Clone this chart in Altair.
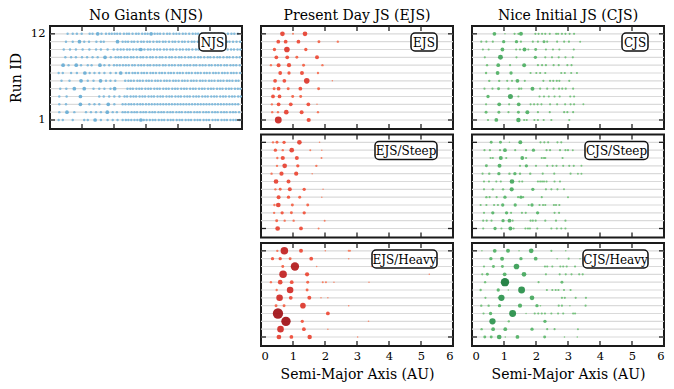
import altair as alt
import pandas as pd

FONT = "DejaVu Serif"
W, H = 192, 103
RUNS = list(range(1, 13))
X_TICKS = [0, 1, 2, 3, 4, 5, 6]
Y_TICKS = [1, 12]
TITLES = ["No Giants (NJS)", "Present Day JS (EJS)", "Nice Initial JS (CJS)"]
X_TITLE = "Semi-Major Axis (AU)"
Y_TITLE = "Run ID"

# ---------------- NJS: small and medium bodies per run ----------------
NJS_SMALL = {
    12: [0.55, 0.71, 0.84, 0.99, 1.24, 1.33, 1.61, 1.75, 1.85, 1.93, 2.02, 2.10, 2.19, 2.31, 2.40, 2.47, 2.58, 2.69, 2.77, 2.88, 2.97, 3.05, 3.27, 3.36, 3.44, 3.55, 3.66, 3.74, 3.86, 3.95, 4.04, 4.15, 4.24, 4.35, 4.46, 4.55, 4.63, 4.74, 4.86, 4.95, 5.05, 5.14, 5.26, 5.37, 5.45, 5.56, 5.67, 5.76, 5.87],
    11: [0.50, 0.71, 1.07, 1.22, 1.45, 1.59, 1.68, 2.27, 2.36, 2.44, 2.55, 2.63, 2.74, 2.85, 2.93, 3.04, 3.12, 3.23, 3.34, 3.42, 3.53, 3.61, 3.72, 3.83, 3.91, 4.02, 4.13, 4.21, 4.32, 4.43, 4.51, 4.62, 4.73, 4.82, 4.93, 5.01, 5.12, 5.23, 5.31, 5.42, 5.53, 5.61, 5.72, 5.83, 5.94],
    10: [0.43, 0.625, 0.81, 1.02, 1.23, 1.44, 1.59, 1.80, 1.99, 2.11, 2.21, 2.30, 2.41, 2.49, 2.60, 2.70, 2.79, 2.95, 3.06, 3.14, 3.25, 3.35, 3.44, 3.56, 3.65, 3.76, 3.84, 3.95, 4.06, 4.15, 4.26, 4.34, 4.45, 4.56, 4.64, 4.75, 4.86, 4.94, 5.05, 5.16, 5.25, 5.36, 5.44, 5.55, 5.66, 5.75, 5.86, 5.95],
    9: [0.48, 0.66, 0.81, 1.00, 1.16, 1.33, 1.49, 1.90, 2.05, 2.14, 2.22, 2.33, 2.42, 2.53, 2.61, 2.72, 2.83, 2.91, 3.02, 3.13, 3.21, 3.32, 3.43, 3.51, 3.62, 3.73, 3.81, 3.92, 4.03, 4.11, 4.22, 4.33, 4.41, 4.52, 4.63, 4.71, 4.82, 4.93, 5.01, 5.12, 5.23, 5.31, 5.42, 5.53, 5.61, 5.72, 5.83, 5.93],
    8: [0.58, 0.97, 1.18, 1.30, 1.70, 1.85, 2.00, 2.09, 2.18, 2.28, 2.37, 2.46, 2.57, 2.65, 2.76, 2.85, 2.94, 3.05, 3.13, 3.24, 3.33, 3.42, 3.53, 3.61, 3.72, 3.81, 3.90, 4.01, 4.09, 4.20, 4.29, 4.38, 4.49, 4.57, 4.68, 4.77, 4.86, 4.97, 5.05, 5.16, 5.25, 5.34, 5.45, 5.53, 5.64, 5.73, 5.82, 5.93],
    7: [0.27, 0.40, 0.66, 0.84, 1.24, 1.39, 1.54, 1.70, 1.89, 2.06, 2.38, 2.47, 2.58, 2.66, 2.75, 2.86, 2.94, 3.03, 3.14, 3.22, 3.31, 3.42, 3.50, 3.59, 3.70, 3.78, 3.87, 3.98, 4.06, 4.15, 4.26, 4.34, 4.43, 4.54, 4.62, 4.71, 4.82, 4.90, 4.99, 5.10, 5.18, 5.27, 5.38, 5.46, 5.55, 5.66, 5.74, 5.83, 5.94],
    6: [0.36, 0.61, 1.18, 1.36, 1.75, 1.89, 2.04, 2.35, 2.45, 2.53, 2.62, 2.73, 2.81, 2.90, 3.01, 3.09, 3.18, 3.29, 3.37, 3.46, 3.57, 3.65, 3.74, 3.85, 3.93, 4.02, 4.13, 4.21, 4.30, 4.41, 4.49, 4.58, 4.69, 4.77, 4.86, 4.97, 5.05, 5.14, 5.25, 5.33, 5.42, 5.53, 5.61, 5.70, 5.81, 5.89],
    5: [0.32, 0.51, 1.36, 1.54, 1.70, 1.89, 2.42, 2.51, 2.59, 2.70, 2.79, 2.87, 2.98, 3.07, 3.15, 3.26, 3.35, 3.43, 3.54, 3.63, 3.71, 3.82, 3.91, 3.99, 4.10, 4.19, 4.27, 4.38, 4.47, 4.55, 4.66, 4.75, 4.83, 4.94, 5.03, 5.11, 5.22, 5.31, 5.39, 5.50, 5.59, 5.67, 5.78, 5.87, 5.95],
    4: [0.29, 0.52, 1.54, 1.68, 1.85, 2.01, 2.17, 2.33, 2.41, 2.52, 2.61, 2.69, 2.80, 2.89, 2.97, 3.08, 3.17, 3.25, 3.36, 3.45, 3.53, 3.64, 3.73, 3.81, 3.92, 4.01, 4.09, 4.20, 4.29, 4.37, 4.48, 4.57, 4.65, 4.76, 4.85, 4.93, 5.04, 5.13, 5.21, 5.32, 5.41, 5.49, 5.60, 5.69, 5.77, 5.88, 5.96],
    3: [0.29, 0.50, 1.23, 1.39, 1.54, 2.01, 2.27, 2.36, 2.46, 2.54, 2.63, 2.73, 2.82, 2.90, 3.00, 3.09, 3.18, 3.27, 3.36, 3.45, 3.54, 3.63, 3.72, 3.81, 3.90, 3.99, 4.08, 4.17, 4.26, 4.35, 4.44, 4.53, 4.62, 4.71, 4.80, 4.89, 4.98, 5.07, 5.16, 5.25, 5.34, 5.43, 5.52, 5.61, 5.70, 5.79, 5.88],
    2: [0.29, 0.76, 1.125, 1.28, 1.44, 1.59, 1.96, 2.09, 2.27, 2.35, 2.44, 2.55, 2.64, 2.72, 2.83, 2.92, 3.00, 3.11, 3.20, 3.28, 3.39, 3.48, 3.56, 3.67, 3.76, 3.84, 3.95, 4.04, 4.12, 4.23, 4.32, 4.40, 4.51, 4.60, 4.68, 4.79, 4.88, 4.96, 5.07, 5.16, 5.24, 5.35, 5.44, 5.52, 5.63, 5.72, 5.80, 5.91],
    1: [0.27, 0.40, 0.71, 1.07, 1.18, 1.59, 1.80, 1.96, 2.11, 2.27, 2.37, 2.45, 2.54, 2.64, 2.73, 2.93, 3.02, 3.12, 3.21, 3.29, 3.40, 3.49, 3.57, 3.68, 3.77, 3.85, 3.96, 4.05, 4.13, 4.24, 4.33, 4.41, 4.52, 4.61, 4.69, 4.80, 4.89, 4.97, 5.08, 5.17, 5.25, 5.36, 5.45, 5.53, 5.64, 5.73, 5.81, 5.92],
}
NJS_MED = {
    12: [1.49, 3.16], 11: [0.92, 2.11], 10: [2.84], 9: [1.72], 8: [0.41, 0.82, 1.56],
    7: [1.09, 2.21], 6: [0.97, 1.58], 5: [0.76, 1.07, 2.02], 4: [0.95], 3: [0.95, 1.82],
    2: [0.53, 1.79], 1: [1.41, 2.84],
}
NJS_SMALL_MASS = 0.15
NJS_MED_MASS = 0.35

# ---------------- (semi-major axis, mass) per run ----------------
EJS = {
    12: [(0.67, 0.56), (1.0, 0.1), (1.375, 0.56)],
    11: [(0.54, 0.36), (0.77, 0.36), (1.17, 0.36), (1.81, 0.22), (2.4, 0.14)],
    10: [(0.42, 0.28), (0.81, 0.8), (1.4, 0.28)],
    9: [(0.48, 0.36), (0.82, 0.36), (1.12, 0.22), (1.75, 0.4)],
    8: [(0.31, 0.14), (0.55, 0.4), (0.875, 0.45), (1.33, 0.22), (1.92, 0.14)],
    7: [(0.6, 0.36), (0.875, 0.28), (1.28, 0.4), (1.78, 0.14)],
    6: [(0.44, 0.36), (0.73, 0.36), (1.43, 0.8), (2.23, 0.06)],
    5: [(0.41, 0.22), (0.55, 0.36), (0.85, 0.22), (1.23, 0.36), (1.8, 0.22)],
    4: [(0.375, 0.36), (0.58, 0.36), (0.99, 0.22), (1.24, 0.22)],
    3: [(0.34, 0.14), (0.55, 0.36), (0.93, 0.36), (1.48, 0.36), (1.75, 0.06)],
    2: [(0.35, 0.14), (0.53, 0.14), (0.79, 0.56), (1.27, 0.4), (1.78, 0.14)],
    1: [(0.54, 1.2), (1.49, 0.45)],
}
EJS_STEEP = {
    12: [(0.375, 0.14), (0.5, 0.22), (0.72, 0.28), (1.2, 0.56), (1.83, 0.06)],
    11: [(0.45, 0.28), (0.68, 0.14), (0.96, 0.56), (1.54, 0.1), (1.9, 0.06)],
    10: [(0.51, 0.14), (0.68, 0.45), (1.12, 0.4), (1.89, 0.1)],
    9: [(0.5, 0.14), (0.74, 0.56), (1.15, 0.28), (1.73, 0.14)],
    8: [(0.33, 0.14), (0.64, 0.45), (1.1, 0.45), (1.6, 0.06)],
    7: [(0.47, 0.56), (0.86, 0.4)],
    6: [(0.45, 0.14), (0.6, 0.22), (0.9, 0.4), (1.35, 0.28), (1.94, 0.06)],
    5: [(0.55, 0.4), (0.86, 0.28), (1.21, 0.22), (1.9, 0.06)],
    4: [(0.42, 0.14), (0.54, 0.56), (0.98, 0.22), (1.46, 0.22)],
    3: [(0.41, 0.14), (0.66, 0.28), (0.95, 0.22), (1.35, 0.28)],
    2: [(0.49, 0.22), (0.74, 0.14), (1.02, 0.14), (1.99, 0.1)],
    1: [(0.52, 0.56), (1.25, 0.36), (1.8, 0.1)],
}
EJS_HEAVY = {
    12: [(0.51, 0.14), (0.73, 1.45), (1.25, 0.4), (2.01, 0.06), (2.74, 0.1), (2.78, 0.1)],
    11: [(0.36, 0.28), (0.6, 0.28), (0.91, 0.22), (1.57, 0.36), (2.74, 0.06)],
    10: [(0.68, 0.22), (1.06, 1.8), (1.74, 0.06), (3.46, 0.06)],
    9: [(0.69, 1.45), (1.44, 0.45), (5.26, 0.06)],
    8: [(0.31, 0.14), (0.6, 0.56), (0.96, 0.36), (1.46, 0.22), (1.93, 0.1), (2.03, 0.1), (2.28, 0.06), (3.375, 0.06)],
    7: [(0.49, 0.14), (0.91, 1.1), (1.44, 0.22)],
    6: [(0.58, 1.1), (0.93, 0.36), (1.51, 0.4), (1.875, 0.06), (2.09, 0.06)],
    5: [(0.47, 0.22), (0.72, 0.22), (1.31, 0.8), (2.74, 0.06)],
    4: [(0.53, 2.7), (2.09, 0.36)],
    3: [(0.78, 2.25), (1.29, 0.28), (3.36, 0.06)],
    2: [(0.61, 1.1), (1.34, 0.36), (2.09, 0.06)],
    1: [(0.56, 0.56), (0.95, 0.36), (1.52, 0.5), (3.02, 0.06)],
}
CJS = {
    12: [(0.70, 0.36), (1.03, 0.06), (1.33, 0.12), (1.45, 0.12), (1.53, 0.4), (1.98, 0.12), (2.08, 0.12), (2.19, 0.12), (2.29, 0.12), (2.43, 0.12), (2.63, 0.12), (2.69, 0.12), (2.81, 0.12), (2.92, 0.12), (3.05, 0.12), (3.19, 0.12)],
    11: [(0.29, 0.12), (0.45, 0.12), (0.65, 0.12), (0.99, 0.28), (1.39, 0.28), (1.53, 0.12), (1.9, 0.12), (2.06, 0.12), (2.25, 0.22), (2.35, 0.12), (2.66, 0.12), (2.88, 0.12), (3.03, 0.12), (3.38, 0.1)],
    10: [(0.34, 0.12), (0.52, 0.12), (0.95, 0.36), (1.38, 0.12), (1.5, 0.12), (1.64, 0.4), (1.76, 0.12), (1.99, 0.22), (2.31, 0.12), (2.53, 0.12), (2.73, 0.12), (3.18, 0.12)],
    9: [(0.40, 0.12), (0.89, 0.63), (1.39, 0.12), (1.98, 0.28), (2.29, 0.12), (2.5, 0.12), (2.71, 0.12), (2.92, 0.12), (3.15, 0.12)],
    8: [(0.47, 0.14), (0.82, 0.36), (1.19, 0.12), (1.63, 0.4), (2.06, 0.12), (2.19, 0.12), (2.31, 0.12), (2.55, 0.12), (2.71, 0.12), (2.98, 0.12), (3.11, 0.12)],
    7: [(0.44, 0.14), (0.80, 0.36), (1.22, 0.28), (1.83, 0.12), (2.01, 0.12), (2.13, 0.12), (2.29, 0.12), (2.79, 0.12), (2.9, 0.12), (3.1, 0.12), (3.28, 0.12)],
    6: [(0.54, 0.14), (0.85, 0.14), (1.1, 0.12), (1.25, 0.12), (1.42, 0.36), (1.65, 0.12), (2.23, 0.12), (2.44, 0.12), (2.54, 0.12), (2.65, 0.12), (2.73, 0.12), (3.04, 0.12)],
    5: [(0.39, 0.12), (0.64, 0.12), (0.83, 0.22), (1.14, 0.14), (1.47, 0.14), (1.54, 0.12), (1.89, 0.4), (2.13, 0.12), (2.35, 0.12), (2.55, 0.12), (2.72, 0.12), (2.82, 0.12), (2.93, 0.12), (3.16, 0.12)],
    4: [(0.5, 0.28), (1.2, 0.65), (1.45, 0.12), (2.11, 0.12), (2.25, 0.12), (2.4, 0.12), (2.58, 0.12), (2.74, 0.12), (3.07, 0.12), (3.19, 0.12)],
    3: [(0.44, 0.12), (0.85, 0.36), (1.16, 0.12), (1.46, 0.36), (1.83, 0.12), (1.94, 0.12), (2.05, 0.12), (2.17, 0.12), (2.44, 0.12), (2.66, 0.12), (2.91, 0.12), (3.08, 0.12), (3.19, 0.12), (3.48, 0.1)],
    2: [(0.44, 0.22), (0.84, 0.22), (1.14, 0.12), (1.45, 0.22), (1.73, 0.4), (2.06, 0.12), (2.43, 0.12), (2.88, 0.12), (2.98, 0.12), (3.16, 0.12)],
    1: [(0.5, 0.12), (0.76, 0.36), (1.45, 0.5), (1.63, 0.12), (1.71, 0.12), (1.95, 0.12), (2.06, 0.12), (2.24, 0.12), (2.48, 0.12), (3.04, 0.12)],
}
CJS_STEEP = {
    12: [(0.6, 0.22), (0.89, 0.22), (1.17, 0.06), (1.51, 0.4), (2.14, 0.12), (2.26, 0.12), (2.38, 0.12), (2.67, 0.12), (2.79, 0.12)],
    11: [(0.39, 0.12), (0.56, 0.12), (0.875, 0.12), (1.03, 0.36), (1.35, 0.12), (1.69, 0.12), (1.92, 0.28), (2.33, 0.12), (2.44, 0.12), (2.75, 0.12), (2.92, 0.12), (3.0, 0.12), (3.15, 0.1)],
    10: [(0.58, 0.12), (0.65, 0.12), (0.9, 0.4), (1.07, 0.12), (1.57, 0.36), (1.69, 0.12), (2.18, 0.12), (2.25, 0.12), (2.29, 0.12), (2.83, 0.12)],
    9: [(0.45, 0.22), (0.86, 0.4), (1.5, 0.12), (1.7, 0.28), (2.0, 0.12), (2.35, 0.12), (2.52, 0.12), (2.64, 0.12), (2.85, 0.12), (3.04, 0.12), (3.18, 0.12), (3.42, 0.1)],
    8: [(0.33, 0.12), (0.54, 0.14), (0.84, 0.28), (1.17, 0.14), (1.34, 0.28), (1.5, 0.14), (1.82, 0.14), (2.21, 0.12), (2.57, 0.12), (3.08, 0.12), (3.31, 0.1), (3.42, 0.1)],
    7: [(0.375, 0.12), (0.53, 0.12), (0.76, 0.12), (0.9, 0.12), (1.25, 0.56), (1.48, 0.12), (1.57, 0.12), (2.06, 0.12), (2.13, 0.12), (2.19, 0.12), (2.25, 0.12), (2.33, 0.12), (2.58, 0.12), (2.75, 0.12)],
    6: [(0.375, 0.12), (0.65, 0.14), (0.97, 0.14), (1.24, 0.45), (1.9, 0.28), (2.31, 0.12), (2.48, 0.12), (2.67, 0.12), (2.875, 0.1)],
    5: [(0.45, 0.14), (0.55, 0.12), (0.77, 0.12), (1.03, 0.28), (1.44, 0.12), (1.53, 0.28), (1.6, 0.12), (2.18, 0.12), (3.0, 0.1)],
    4: [(0.27, 0.12), (0.45, 0.12), (0.69, 0.12), (0.81, 0.12), (0.96, 0.28), (1.35, 0.28), (1.77, 0.12), (1.875, 0.28), (2.11, 0.12), (2.22, 0.12), (2.29, 0.12), (2.56, 0.12), (2.625, 0.12), (2.73, 0.12)],
    3: [(0.375, 0.12), (0.65, 0.28), (1.08, 0.28), (1.22, 0.12), (1.56, 0.12), (1.68, 0.12), (2.05, 0.28), (2.58, 0.12), (2.72, 0.12)],
    2: [(0.35, 0.12), (0.46, 0.12), (0.61, 0.12), (0.97, 0.28), (1.17, 0.36), (1.27, 0.12), (1.83, 0.12), (1.9, 0.12), (1.99, 0.12), (2.29, 0.12), (2.625, 0.12), (2.92, 0.12)],
    1: [(0.35, 0.12), (0.72, 0.28), (0.92, 0.12), (1.2, 0.4), (1.3, 0.12), (1.67, 0.12), (1.75, 0.12), (1.81, 0.12), (2.04, 0.12), (2.48, 0.12), (2.65, 0.12), (2.79, 0.12), (2.92, 0.12)],
}
CJS_HEAVY = {
    12: [(0.31, 0.06), (0.71, 0.36), (1.125, 0.4), (1.47, 0.06), (1.85, 0.56), (2.48, 0.12), (2.93, 0.06)],
    11: [(0.59, 0.28), (0.94, 0.4), (1.53, 0.28), (1.99, 0.36), (2.66, 0.06), (3.02, 0.12), (3.375, 0.06)],
    10: [(0.375, 0.12), (0.67, 0.22), (0.95, 0.22), (1.39, 0.8), (2.28, 0.12), (2.35, 0.12), (2.51, 0.12), (2.76, 0.12), (2.85, 0.12), (2.96, 0.12), (3.22, 0.12)],
    9: [(0.32, 0.12), (0.48, 0.22), (1.02, 0.36), (1.625, 0.56), (2.31, 0.12), (2.74, 0.12), (2.93, 0.12), (3.11, 0.12), (3.35, 0.12), (3.46, 0.12)],
    8: [(0.41, 0.14), (1.03, 1.8), (2.08, 0.12), (2.81, 0.22)],
    7: [(0.27, 0.14), (0.82, 0.28), (1.135, 0.06), (1.55, 1.2), (2.34, 0.12), (2.51, 0.12), (2.615, 0.12), (2.7, 0.12), (2.875, 0.12), (3.08, 0.12)],
    6: [(0.42, 0.12), (0.82, 0.06), (0.92, 1.0), (1.875, 0.56), (2.81, 0.12), (2.9, 0.12), (3.24, 0.12), (3.56, 0.12)],
    5: [(0.29, 0.14), (0.52, 0.14), (0.86, 0.28), (1.5, 0.45), (2.03, 0.28), (2.14, 0.06), (2.71, 0.12), (2.81, 0.12), (3.06, 0.06), (3.55, 0.12)],
    4: [(0.36, 0.12), (0.58, 0.28), (1.27, 1.2), (1.69, 0.06), (1.96, 0.12), (2.07, 0.12), (2.18, 0.12), (2.28, 0.12), (2.48, 0.12), (2.69, 0.12), (2.85, 0.12), (3.16, 0.12), (3.22, 0.12)],
    3: [(0.64, 1.0), (1.15, 0.14), (2.28, 0.28)],
    2: [(0.3, 0.14), (0.66, 0.36), (1.04, 0.36), (1.875, 0.28), (2.35, 0.12), (2.58, 0.12), (3.31, 0.1)],
    1: [(0.4, 0.22), (0.6, 0.22), (0.85, 0.56), (1.04, 0.06), (1.42, 0.36), (2.27, 0.22), (2.89, 0.06), (3.29, 0.06)],
}

BLUES = ["#8cc0e1", "#6aaed6", "#3f8fc5", "#1f6db1"]
REDS = ["#fc8a6a", "#f14c36", "#d42a25", "#a10f15"]
GREENS = ["#80c981", "#52b365", "#2b944d", "#0b6f31"]


def to_df(rows):
    recs = []
    for run, pts in rows.items():
        for a, m in pts:
            recs.append({"run": run, "a": a, "m": m})
    return pd.DataFrame(recs)


njs_rows = {}
for r in RUNS:
    njs_rows[r] = [(a, NJS_SMALL_MASS) for a in NJS_SMALL[r]] + [(a, NJS_MED_MASS) for a in NJS_MED[r]]

runs_df = pd.DataFrame({"run": RUNS})
xt_df = pd.DataFrame({"v": X_TICKS})
yt_df = pd.DataFrame({"v": Y_TICKS})
one_df = pd.DataFrame({"k": [0]})

xs = alt.Scale(domain=[0, 6], nice=False, zero=False)
ys = alt.Scale(domain=[-0.15, 13.0], nice=False, zero=False)
ss = alt.Scale(domain=[0, 2.8], range=[0, 110], zero=True)

TL = 5  # tick length, pixels (inward ticks)
TICK_STYLE = dict(color="#222", strokeWidth=1.3)


def panel(rows, label, box_w, colors, title_text=None, xlabels=False, ylabels=False):
    df = to_df(rows)
    if xlabels:
        xaxis = alt.Axis(orient="bottom", values=X_TICKS, ticks=False, domain=False, grid=False,
                         labels=True, title=X_TITLE, labelPadding=4, titlePadding=6)
    else:
        xaxis = None
    if ylabels:
        yaxis = alt.Axis(orient="left", values=Y_TICKS, ticks=False, domain=False, grid=False,
                         labels=True, title=Y_TITLE, labelPadding=5, titlePadding=7)
    else:
        yaxis = None

    cs = alt.Scale(domain=[0, 0.3, 1.0, 2.2], range=colors, clamp=True)

    grid = alt.Chart(runs_df).mark_rule(color="#dadada", strokeWidth=1.2).encode(
        y=alt.Y("run:Q", scale=ys, axis=yaxis))
    pts = alt.Chart(df).mark_circle(opacity=0.92).encode(
        x=alt.X("a:Q", scale=xs, axis=xaxis),
        y=alt.Y("run:Q", scale=ys, axis=yaxis),
        size=alt.Size("m:Q", scale=ss, legend=None),
        color=alt.Color("m:Q", scale=cs, legend=None),
        order=alt.Order("m:Q"),
    )
    tb = alt.Chart(xt_df).mark_rule(**TICK_STYLE).encode(
        x=alt.X("v:Q", scale=xs, axis=xaxis), y=alt.value(H - TL), y2=alt.value(H))
    tt = alt.Chart(xt_df).mark_rule(**TICK_STYLE).encode(
        x=alt.X("v:Q", scale=xs, axis=xaxis), y=alt.value(0), y2=alt.value(TL))
    tl = alt.Chart(yt_df).mark_rule(**TICK_STYLE).encode(
        y=alt.Y("v:Q", scale=ys, axis=yaxis), x=alt.value(0), x2=alt.value(TL))
    tr = alt.Chart(yt_df).mark_rule(**TICK_STYLE).encode(
        y=alt.Y("v:Q", scale=ys, axis=yaxis), x=alt.value(W - TL), x2=alt.value(W))
    box = alt.Chart(one_df).mark_rect(fill="white", stroke="#111", strokeWidth=1.5, cornerRadius=4).encode(
        x=alt.value(W - 16 - box_w), x2=alt.value(W - 16), y=alt.value(7), y2=alt.value(25))
    txt = alt.Chart(one_df).mark_text(text=label, font=FONT, fontSize=12, color="black",
                                      align="center", baseline="middle").encode(
        x=alt.value(W - 16 - box_w / 2), y=alt.value(16.5))
    ch = alt.layer(grid, pts, tb, tt, tl, tr, box, txt)
    if title_text:
        ch = ch.properties(width=W, height=H, title=alt.TitleParams(
            text=title_text, font=FONT, fontSize=14, fontWeight="normal", color="black",
            anchor="middle", offset=2))
    else:
        ch = ch.properties(width=W, height=H)
    return ch


njs = panel(njs_rows, "NJS", 27, BLUES, TITLES[0], xlabels=False, ylabels=True)
ejs = panel(EJS, "EJS", 26, REDS, TITLES[1])
ejs_s = panel(EJS_STEEP, "EJS/Steep", 62, REDS)
ejs_h = panel(EJS_HEAVY, "EJS/Heavy", 65, REDS, xlabels=True)
cjs = panel(CJS, "CJS", 26, GREENS, TITLES[2])
cjs_s = panel(CJS_STEEP, "CJS/Steep", 63, GREENS)
cjs_h = panel(CJS_HEAVY, "CJS/Heavy", 65, GREENS, xlabels=True)

col_e = alt.vconcat(ejs, ejs_s, ejs_h, spacing=1.5)
col_c = alt.vconcat(cjs, cjs_s, cjs_h, spacing=1.5)

chart = alt.hconcat(njs, col_e, col_c, spacing=15).resolve_scale(color="independent").properties(
    padding={"left": 0, "top": 0, "right": 0, "bottom": 0},
    background="white",
).configure_view(stroke="#1a1a1a", strokeWidth=2).configure_axis(
    labelFont=FONT, titleFont=FONT, labelFontSize=11.5, titleFontSize=14,
    titleFontWeight="normal", labelColor="black", titleColor="black",
).configure_title(font=FONT)

chart.save("out.html", embed_options={"renderer": "svg", "actions": False})
